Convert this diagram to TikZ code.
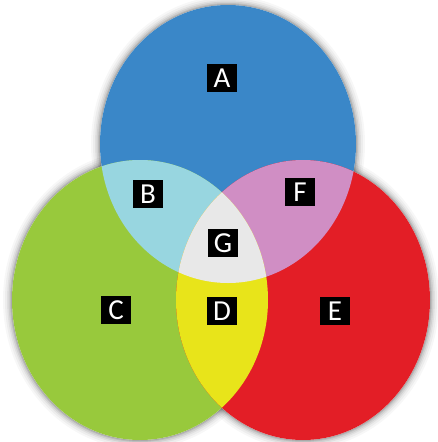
\documentclass[tikz,border=0pt]{standalone}
\usepackage{fontspec}
\setmainfont{Carlito}
\definecolor{cblue}{HTML}{3A87C8}
\definecolor{cgreen}{HTML}{98C93C}
\definecolor{cred}{HTML}{E31E26}
\definecolor{clblue}{HTML}{98D6E0}
\definecolor{cpink}{HTML}{D08EC4}
\definecolor{cgray}{HTML}{E8E8E8}
\definecolor{cyellow}{HTML}{E8E41A}
\tikzset{
  lbl/.style={fill=black, text=white, minimum width=30pt, minimum height=28pt,
    inner sep=0pt, font=\fontsize{29}{29}\selectfont},
}
\begin{document}
\begin{tikzpicture}[x=1pt,y=-1pt]
\useasboundingbox (0,0) rectangle (437,442);
\fill[white] (0,0) rectangle (437,442);
% soft shadow
\foreach \d/\o in {9/0.03,7/0.04,5/0.05,3.5/0.07,2/0.09,1/0.1}{
  \fill[black,opacity=\o] (228,144) ellipse [x radius=128+\d, y radius=139+\d];
  \fill[black,opacity=\o] (140,300) ellipse [x radius=128+\d, y radius=140+\d];
  \fill[black,opacity=\o] (303,300) ellipse [x radius=127+\d, y radius=140+\d];
}
\fill[white] (228,144) ellipse [x radius=128, y radius=139];
\fill[white] (140,300) ellipse [x radius=128, y radius=140];
\fill[white] (303,300) ellipse [x radius=127, y radius=140];
% main circles
\fill[cblue] (228,144) ellipse [x radius=128, y radius=139];
\fill[cgreen] (140,300) ellipse [x radius=128, y radius=140];
\fill[cred] (303,300) ellipse [x radius=127, y radius=140];
% pairwise intersections
\begin{scope}
  \clip (228,144) ellipse [x radius=128, y radius=139];
  \fill[clblue] (140,300) ellipse [x radius=128, y radius=140];
  \fill[cpink] (303,300) ellipse [x radius=127, y radius=140];
\end{scope}
\begin{scope}
  \clip (140,300) ellipse [x radius=128, y radius=140];
  \fill[cyellow] (303,300) ellipse [x radius=127, y radius=140];
\end{scope}
\begin{scope}
  \clip (228,144) ellipse [x radius=128, y radius=139];
  \clip (140,300) ellipse [x radius=128, y radius=140];
  \fill[cgray] (303,300) ellipse [x radius=127, y radius=140];
\end{scope}
% labels
\node[lbl] (A) at (222,78) {A};
\node[lbl] (B) at (148,194) {B};
\node[lbl] (F) at (300,192) {F};
\node[lbl] (G) at (223,243) {G};
\node[lbl] (C) at (116,310) {C};
\node[lbl] (D) at (222,311) {D};
\node[lbl] (E) at (335,311) {E};
\end{tikzpicture}
\end{document}
